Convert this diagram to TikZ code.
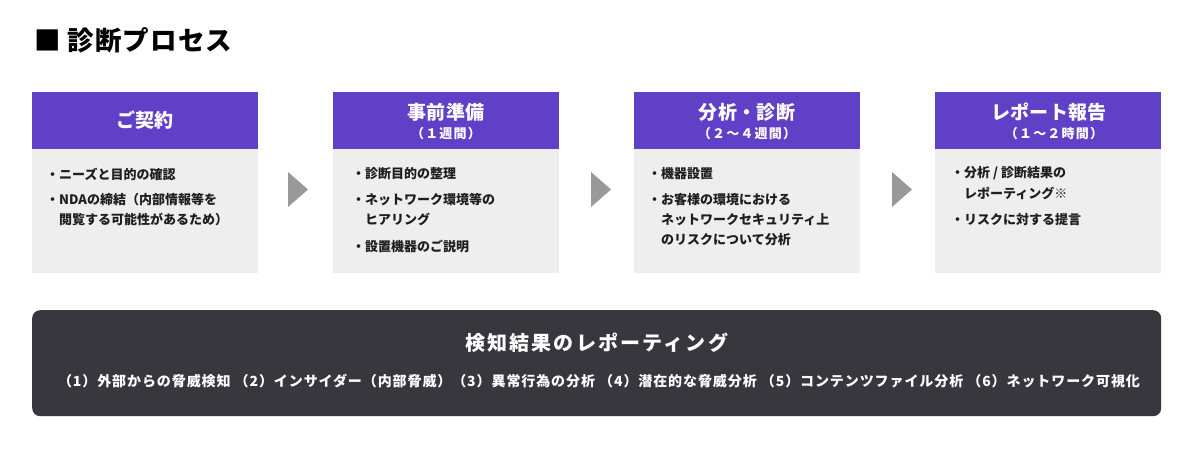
\documentclass[tikz,border=0pt]{standalone}
\usepackage{fontspec}
\setmainfont{Noto Sans CJK JP}
\newfontfamily\spacedA[LetterSpace=4]{Noto Sans CJK JP}
\newfontfamily\spacedB[LetterSpace=11]{Noto Sans CJK JP}
\newfontfamily\spacedC[LetterSpace=6.5]{Noto Sans CJK JP}
\newfontfamily\spacedD[LetterSpace=9]{Noto Sans CJK JP}
\newfontfamily\spacedE[LetterSpace=2]{Noto Sans CJK JP}
\definecolor{hdrc}{HTML}{5F40C7}
\definecolor{bodyc}{HTML}{EEEEEE}
\definecolor{darkc}{HTML}{38373D}
\definecolor{arrc}{HTML}{999999}
\definecolor{txtc}{HTML}{1E1E1E}
\tikzset{
  hdrbox/.style={fill=hdrc, minimum width=226pt, minimum height=57pt, inner sep=0pt, anchor=north west},
  bodybox/.style={fill=bodyc, minimum width=226pt, minimum height=124pt, inner sep=0pt, anchor=north west},
  htitle/.style={text=white, inner sep=0pt, font=\spacedE\bfseries\fontsize{19}{22}\selectfont},
  hsub/.style={text=white, inner sep=0pt, font=\spacedD\bfseries\fontsize{13}{15}\selectfont},
  bline/.style={text=txtc, anchor=west, inner sep=0pt, font=\bfseries\fontsize{13}{15}\selectfont},
  arrtri/.style={fill=arrc},
}
\begin{document}
\begin{tikzpicture}[x=1pt,y=-1pt]
\useasboundingbox[fill=white] (0,0) rectangle (1195,455);
% title
\node[anchor=west, inner sep=0pt, text=black, font=\spacedA\bfseries\fontsize{26.5}{30}\selectfont] (title) at (34,40) {■ 診断プロセス};
% boxes
\foreach \i/\x in {1/32,2/333,3/634,4/935}{
  \node[hdrbox] (h\i) at (\x,92) {};
  \node[bodybox] (b\i) at (\x,149) {};
}
% header texts
\node[htitle] (t1) at (145,120.5) {ご契約};
\node[htitle] (t2) at (446,112) {事前準備};
\node[hsub] (s2) at (446,134) {（１週間）};
\node[htitle] (t3) at (747,112) {分析・診断};
\node[hsub] (s3) at (747,134) {（２～４週間）};
\node[htitle] (t4) at (1049,112) {レポート報告};
\node[hsub] (s4) at (1054,134) {（１～２時間）};
% box 1
\node[bline] (l11) at (46,174) {・ニーズと目的の確認};
\node[bline] (l12) at (46,200) {・NDAの締結（内部情報等を};
\node[bline] (l13) at (59,219.5) {閲覧する可能性があるため）};
% box 2
\node[bline] (l21) at (352,174) {・診断目的の整理};
\node[bline] (l22) at (352,200) {・ネットワーク環境等の};
\node[bline] (l23) at (365,219.5) {ヒアリング};
\node[bline] (l24) at (352,246) {・設置機器のご説明};
% box 3
\node[bline] (l31) at (648,174) {・機器設置};
\node[bline] (l32) at (648,200) {・お客様の環境における};
\node[bline] (l33) at (661,219.5) {ネットワークセキュリティ上};
\node[bline] (l34) at (661,239.5) {のリスクについて分析};
% box 4
\node[bline] (l41) at (951,173.5) {・分析 / 診断結果の};
\node[bline] (l42) at (964,193.5) {レポーティング※};
\node[bline] (l43) at (951,220) {・リスクに対する提言};
% arrows
\coordinate (a1) at (288,172);
\coordinate (a2) at (591,172);
\coordinate (a3) at (892,172);
\foreach \a in {a1,a2,a3}{
  \fill[arrtri] (\a) -- ++(20,17.5) -- ++(-20,17.5) -- cycle;
}
% dark box
\node[fill=darkc, rounded corners=8pt, minimum width=1129pt, minimum height=106pt, inner sep=0pt, anchor=north west] (dk) at (32,310) {};
\node[text=white, inner sep=0pt, font=\spacedB\bfseries\fontsize{20}{24}\selectfont] (dt) at (596.5,343) {検知結果のレポーティング};
\node[text=white, inner sep=0pt, font=\spacedC\bfseries\fontsize{14}{16}\selectfont] (dl) at (599,381) {（1）外部からの脅威検知\ （2）インサイダー（内部脅威）（3）異常行為の分析\ （4）潜在的な脅威分析\ （5）コンテンツファイル分析\ （6）ネットワーク可視化};
\end{tikzpicture}
\end{document}
